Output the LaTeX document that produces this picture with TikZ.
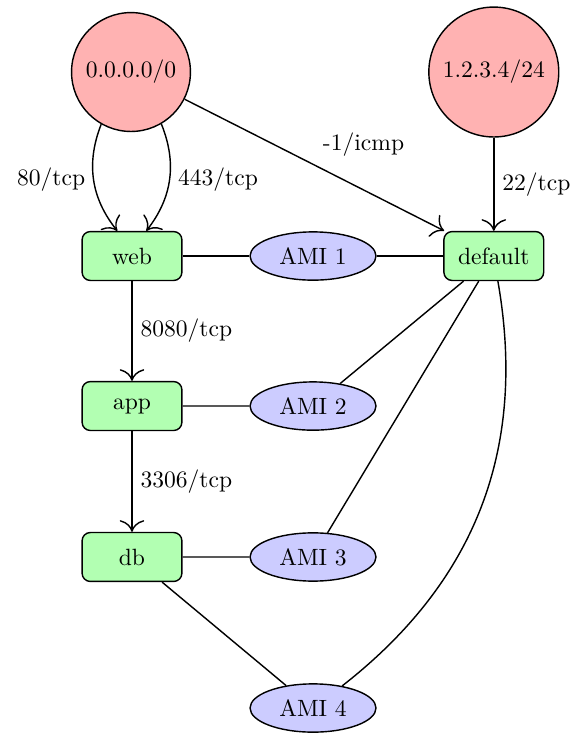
\documentclass[tikz,border=0pt]{standalone}
\usepackage{amsmath}
\usepackage[dvipsnames]{xcolor}
\usetikzlibrary{calc,shapes,arrows.meta}

\begin{document}
\begin{tikzpicture}[semithick,>={To[scale=1.7]},
  cidr/.style={draw,circle,fill=red!30,inner sep=4.3pt},
  sgroup/.style={draw,rectangle,rounded corners=3.5pt,fill=green!30,minimum width=1.49cm,minimum height=0.73cm},
  ami/.style={draw,ellipse,fill=blue!20,minimum width=1.88cm,minimum height=0.72cm}]
\useasboundingbox (0,0) rectangle (8.612,-10.94);

\node (any) at (1.955,-1.075)[cidr]{0.0.0.0/0};
\node (office) at (7.370,-1.075)[cidr]{1.2.3.4/24};

\node (web) at (1.970,-3.821)[sgroup]{web};
\node (app) at (1.970,-6.060)[sgroup]{app};
\node (db) at (1.970,-8.313)[sgroup]{db};
\node (default) at (7.370,-3.821)[sgroup]{default};

\node (ami1) at (4.672,-3.821)[ami]{AMI 1};
\node (ami2) at (4.672,-6.060)[ami]{AMI 2};
\node (ami3) at (4.672,-8.313)[ami]{AMI 3};
\node (ami4) at (4.672,-10.567)[ami]{AMI 4};

% rules
\draw[->] (any) to[bend right=30] node[left]{80/tcp} (web);
\draw[->] (any) to[bend left=30] node[right]{443/tcp} (web);
\draw[->] (any) -- node[above right]{-1/icmp} (default);
\draw[->] (office) -- node[right]{22/tcp} (default);
\draw[->] (web) -- node[right]{8080/tcp} (app);
\draw[->] (app) -- node[right]{3306/tcp} (db);

% membership
\draw (web) -- (ami1) -- (default);
\draw (app) -- (ami2) -- (default);
\draw (db) -- (ami3) -- (default);
\draw (db) -- (ami4);
\draw (ami4) to[bend right=31] (default);
\end{tikzpicture}
\end{document}
